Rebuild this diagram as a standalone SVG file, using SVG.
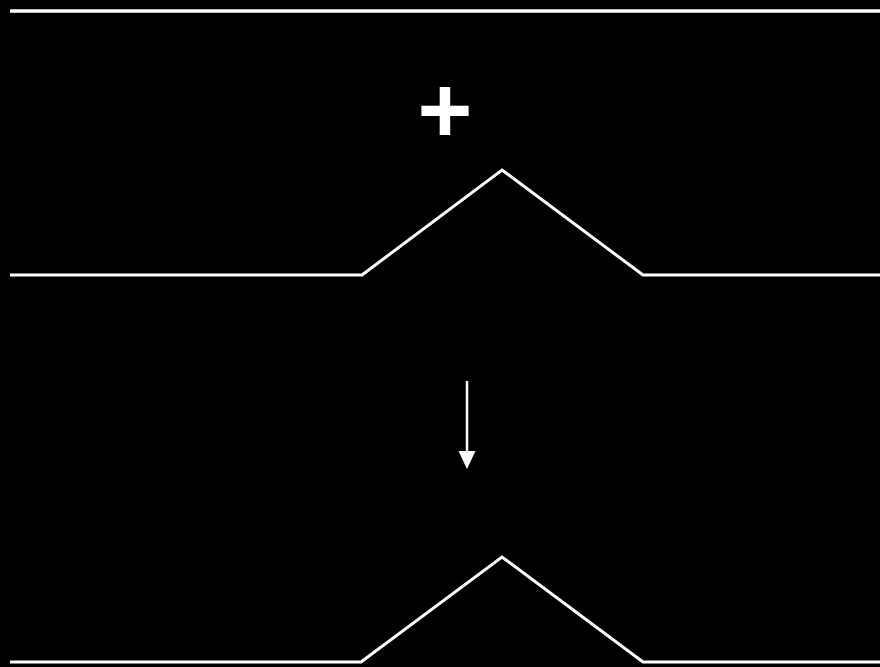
<svg xmlns="http://www.w3.org/2000/svg" width="880" height="667" viewBox="0 0 880 667">
<style>
.ln{fill:none;stroke:#fff;stroke-width:3.5}
.wave{fill:none;stroke:#fff;stroke-width:3}
.sym{fill:#fff;font-family:"Liberation Sans",Arial,sans-serif;font-weight:bold;font-size:94px;text-anchor:middle}
</style>
<rect width="880" height="667" fill="#000"/>
<g id="top-line"><line class="ln" x1="10" y1="11" x2="880" y2="11"/></g>
<g id="plus"><text class="sym" x="445" y="142">+</text></g>
<g id="pulse-1"><polyline class="wave" points="10,275 362,275 502,170 643,275 880,275"/></g>
<g id="pulse-2"><polyline class="wave" points="10,662 361,662 502,557 643,662 880,662"/></g>
<g id="connectors">
<line x1="467" y1="381" x2="467" y2="452" stroke="#fff" stroke-width="2.5"/>
<path d="M458.5,451 L475.5,451 L467,469 z" fill="#fff"/>
</g>
</svg>
